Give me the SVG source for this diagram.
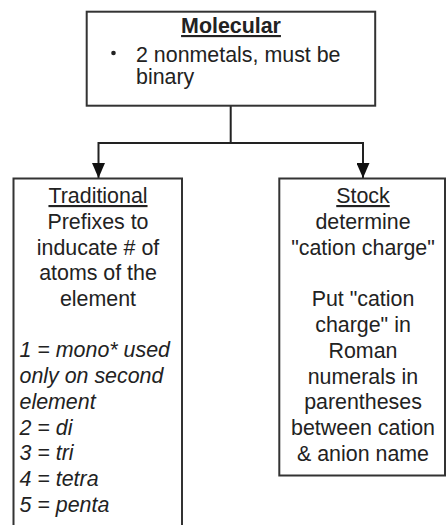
<svg xmlns="http://www.w3.org/2000/svg" width="446" height="525" viewBox="0 0 446 525">
<style>
.box{fill:#fff;stroke:#333;stroke-width:2}
.t{font-family:"Liberation Sans",Arial,sans-serif;font-size:21.4px;fill:#222}
.c{text-anchor:middle}
.it{font-style:italic}
.u{text-decoration:underline}
.b{font-weight:bold}
.conn{fill:none;stroke:#222;stroke-width:2}
</style>
<defs>
<marker id="arr" markerUnits="userSpaceOnUse" markerWidth="15" markerHeight="13" refX="15" refY="6.5" orient="auto">
<path d="M0,0 L15,6.5 L0,13 z" fill="#111"/>
</marker>
</defs>
<g id="connectors">
<path class="conn" d="M230.7,106 V143 H98.5 V178" marker-end="url(#arr)"/>
<path class="conn" d="M230.7,143 H363 V178" marker-end="url(#arr)"/>
</g>
<g id="molecular">
<rect class="box" x="86.7" y="11.7" width="288.5" height="94"/>
<text class="t c b u" x="231" y="33">Molecular</text>
<circle cx="113.5" cy="53" r="2.3" fill="#222"/>
<text class="t" x="136" y="61.5">2 nonmetals, must be</text>
<text class="t" x="136" y="84">binary</text>
</g>
<g id="traditional">
<rect class="box" x="13.5" y="178.5" width="168.5" height="360"/>
<text class="t c" x="98"><tspan class="u" x="98" y="203">Traditional</tspan><tspan x="98" y="228.8">Prefixes to</tspan><tspan x="98" y="254.6">inducate # of</tspan><tspan x="98" y="280.4">atoms of the</tspan><tspan x="98" y="306.2">element</tspan></text>
<text class="t it"><tspan x="19.5" y="357.2">1 = mono* used</tspan><tspan x="19.5" y="383">only on second</tspan><tspan x="19.5" y="408.8">element</tspan><tspan x="19.5" y="434.6">2 = di</tspan><tspan x="19.5" y="460.4">3 = tri</tspan><tspan x="19.5" y="486.2">4 = tetra</tspan><tspan x="19.5" y="512">5 = penta</tspan></text>
</g>
<g id="stock">
<rect class="box" x="279.3" y="178.5" width="165.7" height="297"/>
<text class="t c" x="363"><tspan class="u" x="363" y="203">Stock</tspan><tspan x="363" y="228.8">determine</tspan><tspan x="363" y="254.6">"cation charge"</tspan><tspan x="363" y="306.2">Put "cation</tspan><tspan x="363" y="332">charge" in</tspan><tspan x="363" y="357.8">Roman</tspan><tspan x="363" y="383.6">numerals in</tspan><tspan x="363" y="409.4">parentheses</tspan><tspan x="363" y="435.2">between cation</tspan><tspan x="363" y="461">&amp; anion name</tspan></text>
</g>
</svg>
